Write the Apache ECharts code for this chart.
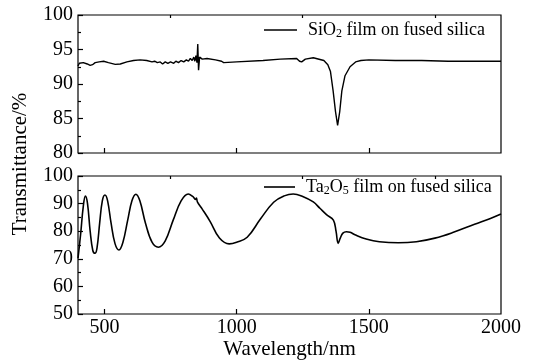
<!DOCTYPE html>
<html>
<head>
<meta charset="utf-8">
<script src="https://cdn.jsdelivr.net/npm/echarts@6/dist/echarts.min.js"></script>
<style>
  html, body { margin: 0; padding: 0; background: #fff; }
  #chart { width: 535px; height: 362px; }
</style>
</head>
<body>
<div id="chart"></div>
<script>
// SiO2 film on fused silica (top panel)
const sio2Wavelength = [400, 405, 420, 435, 446, 455, 465, 480, 497, 515, 541, 560, 585, 610, 635, 660, 680, 690, 700, 711,
  720, 730, 740, 750, 762, 770, 780, 790, 800, 810, 818, 825, 832, 838, 842, 846, 850, 853, 856, 860,
  870, 888, 920, 943, 951, 1000, 1100, 1165, 1227, 1238, 1246, 1260, 1290, 1330, 1345, 1355, 1365, 1374, 1382, 1390,
  1398, 1410, 1429, 1450, 1470, 1500, 1600, 1700, 1800, 1900, 2000];
const sio2Transmittance = [92.6, 93.0, 93.1, 92.9, 92.7, 92.8, 93.1, 93.2, 93.3, 93.1, 92.85, 92.9, 93.2, 93.4, 93.5, 93.4, 93.2, 93.3, 93.1, 93.2,
  92.9, 93.2, 93.0, 93.2, 93.0, 93.3, 93.1, 93.4, 93.2, 93.5, 93.3, 93.7, 93.4, 93.9, 93.3, 94.1, 93.1, 95.8, 92.0, 93.9,
  93.6, 93.7, 93.5, 93.3, 93.1, 93.2, 93.4, 93.6, 93.7, 93.3, 93.2, 93.6, 93.8, 93.4, 92.8, 91.8, 89.0, 86.0, 84.0, 86.0,
  89.0, 91.2, 92.5, 93.2, 93.4, 93.5, 93.4, 93.4, 93.3, 93.3, 93.3];

// Ta2O5 film on fused silica (bottom panel)
const ta2o5Wavelength = [400, 410, 420, 428, 436, 446, 456, 464, 472, 482, 492, 502, 512, 525, 540, 555, 570, 588, 604, 619,
  634, 655, 680, 704, 730, 760, 790, 817, 835, 845, 848, 852, 870, 900, 935, 972, 1000, 1040, 1090, 1140,
  1180, 1214, 1250, 1290, 1315, 1340, 1366, 1376, 1384, 1392, 1402, 1415, 1429, 1450, 1490, 1540, 1612, 1680, 1750, 1820,
  1900, 1960, 2000];
const ta2o5Transmittance = [70.2, 79, 89, 92.7, 90, 80, 73, 72, 74, 83, 91, 93.1, 91, 83, 75.5, 73.2, 76, 84, 91, 93.4,
  91, 83, 76, 74.2, 76.5, 84, 91, 93.5, 92.5, 91.5, 92.0, 90.5, 88, 83.5, 77.5, 75.4, 76, 77.8, 84.4, 90.5,
  92.8, 93.5, 92.6, 90.6, 88.3, 86, 84, 80, 75.6, 77.5, 79.3, 79.8, 79.6, 78.6, 77.2, 76.2, 75.8, 76.2, 77.5, 79.6,
  82.5, 84.6, 86.2];

const xMajorTicks = [500, 1000, 1500];
const xMinorTicks = [750, 1250, 1750];
const xTickLabels = [500, 1000, 1500, 2000];

const serif = 'Liberation Serif';
const zip = (xs, ys) => xs.map((x, i) => [x, ys[i]]);

const legendText = {
  'SiO2': '{p|SiO}{s|2}{n| film on fused silica}',
  'Ta2O5': '{p|Ta}{s|2}{n|O}{s|5}{n| film on fused silica}'
};
const legendRich = {
  p: { fontFamily: serif, fontSize: 18, color: '#000', padding: [0, 0, 0, 6] },
  n: { fontFamily: serif, fontSize: 18, color: '#000' },
  s: { fontFamily: serif, fontSize: 12, color: '#000', padding: [8, 0, 0, 0] }
};

function mainX(grid, showLabels) {
  return {
    type: 'value', gridIndex: grid, min: 400, max: 2000,
    axisLine: { show: false },
    axisTick: { show: true, inside: true, length: 5, customValues: xMajorTicks, lineStyle: { color: '#000', width: 1.2 } },
    axisLabel: { show: showLabels, customValues: xTickLabels, formatter: v => String(v),
      color: '#000', fontFamily: serif, fontSize: 20, margin: 4 },
    splitLine: { show: false }
  };
}
function minorX(grid) {
  return {
    type: 'value', gridIndex: grid, min: 400, max: 2000,
    axisLine: { show: false },
    axisTick: { show: true, inside: true, length: 3, customValues: xMinorTicks, lineStyle: { color: '#000', width: 1.2 } },
    axisLabel: { show: false },
    splitLine: { show: false }
  };
}
function yAxisFor(grid, min, interval) {
  return {
    type: 'value', gridIndex: grid, min: min, max: 100, interval: interval,
    axisLine: { show: false },
    axisTick: { show: true, inside: true, length: 5, lineStyle: { color: '#000', width: 1.2 } },
    minorTick: { show: true, splitNumber: 2, length: 3, lineStyle: { color: '#000', width: 1.2 } },
    axisLabel: { color: '#000', fontFamily: serif, fontSize: 20, margin: 5 },
    splitLine: { show: false }
  };
}

const chart = echarts.init(document.getElementById('chart'));
const xAxes = [mainX(0, false), mainX(1, true), minorX(0), minorX(1)];
xAxes[1].name = 'Wavelength/nm';
xAxes[1].nameLocation = 'middle';
xAxes[1].nameGap = 25;
xAxes[1].nameTextStyle = { color: '#000', fontFamily: serif, fontSize: 21 };

chart.setOption({
  animation: false,
  backgroundColor: '#fff',
  grid: [
    { left: 78, right: 34, top: 15, height: 138, show: true, borderColor: '#000', borderWidth: 1.2 },
    { left: 78, right: 34, top: 176, height: 138, show: true, borderColor: '#000', borderWidth: 1.2 }
  ],
  xAxis: xAxes,
  yAxis: [yAxisFor(0, 80, 5), yAxisFor(1, 50, 10)],
  legend: [
    { data: ['SiO2'], left: 264, top: 21, padding: 0, icon: 'rect', itemWidth: 33, itemHeight: 1.6,
      formatter: n => legendText[n], textStyle: { rich: legendRich } },
    { data: ['Ta2O5'], left: 264, top: 178, padding: 0, icon: 'rect', itemWidth: 31, itemHeight: 1.6,
      formatter: n => legendText[n], textStyle: { rich: legendRich } }
  ],
  graphic: [{
    type: 'text', x: 20, y: 164, rotation: Math.PI / 2,
    style: { text: 'Transmittance/%', fill: '#000', font: '21px "Liberation Serif"', textAlign: 'center', textVerticalAlign: 'middle' }
  }],
  series: [
    { name: 'SiO2', type: 'line', xAxisIndex: 0, yAxisIndex: 0, symbol: 'none',
      lineStyle: { color: '#000', width: 1.4 }, itemStyle: { color: '#000' },
      data: zip(sio2Wavelength, sio2Transmittance) },
    { name: 'Ta2O5', type: 'line', xAxisIndex: 1, yAxisIndex: 1, symbol: 'none', smooth: 0.4,
      lineStyle: { color: '#000', width: 1.6 }, itemStyle: { color: '#000' },
      data: zip(ta2o5Wavelength, ta2o5Transmittance) }
  ]
});
</script>
</body>
</html>
